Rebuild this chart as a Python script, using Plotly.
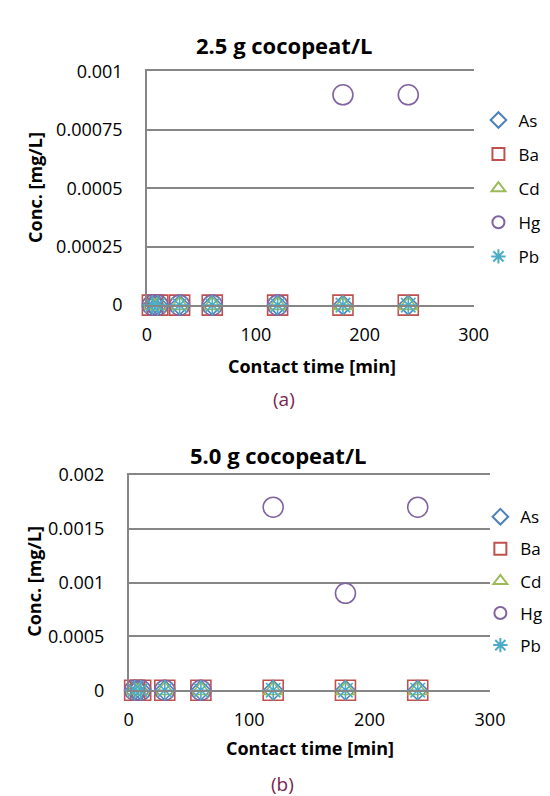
import plotly.graph_objects as go

time_min = [5, 10, 30, 60, 120, 180, 240]
elements = ["As", "Ba", "Cd", "Hg", "Pb"]
conc_a = {
    "As": [0, 0, 0, 0, 0, 0, 0],
    "Ba": [0, 0, 0, 0, 0, 0, 0],
    "Cd": [0, 0, 0, 0, 0, 0, 0],
    "Hg": [0, 0, 0, 0, 0, 0.0009, 0.0009],
    "Pb": [0, 0, 0, 0, 0, 0, 0],
}
conc_b = {
    "As": [0, 0, 0, 0, 0, 0, 0],
    "Ba": [0, 0, 0, 0, 0, 0, 0],
    "Cd": [0, 0, 0, 0, 0, 0, 0],
    "Hg": [0, 0, 0, 0, 0.0017, 0.0009, 0.0017],
    "Pb": [0, 0, 0, 0, 0, 0, 0],
}
yticks_a = [0, 0.00025, 0.0005, 0.00075, 0.001]
yticklabels_a = ["0", "0.00025", "0.0005", "0.00075", "0.001"]
yticks_b = [0, 0.0005, 0.001, 0.0015, 0.002]
yticklabels_b = ["0", "0.0005", "0.001", "0.0015", "0.002"]
xticks = [0, 100, 200, 300]

colors = {"As": "#4F81BD", "Ba": "#C0504D", "Cd": "#9BBB59", "Hg": "#8064A2", "Pb": "#4BACC6"}
symbols = {"As": "diamond-open", "Ba": "square-open", "Cd": "triangle-up-open",
           "Hg": "circle-open", "Pb": "asterisk-open"}
sizes = {"As": 15, "Ba": 20, "Cd": 17, "Hg": 20, "Pb": 17}

FONT = "Open Sans"
W, H = 550, 796
GRID = "#868686"

fig = go.Figure()
for panel, data, xa, ya, lg in [("a", conc_a, "x", "y", "legend"), ("b", conc_b, "x2", "y2", "legend2")]:
    for el in elements:
        fig.add_trace(go.Scatter(
            x=time_min, y=data[el], mode="markers", name=el,
            xaxis=xa, yaxis=ya, legend=lg, legendgroup=panel + el,
            cliponaxis=False,
            marker=dict(symbol=symbols[el], size=sizes[el],
                        line=dict(color=colors[el], width=1.6), color=colors[el]),
        ))

def px_x(p):
    return p / W

def px_y(p):
    return 1 - p / H

tickfont = dict(family=FONT, size=18, color="#000")
xcommon = dict(range=[0, 300], tickvals=xticks, showgrid=False, zeroline=False, ticks="",
               showline=True, mirror=True, linecolor=GRID, linewidth=1.5,
               tickfont=tickfont, ticklabelstandoff=12)
ycommon = dict(showgrid=True, gridcolor=GRID, gridwidth=1.5, zeroline=False, ticks="",
               showline=True, linecolor=GRID, linewidth=1.5,
               tickfont=tickfont, ticklabelstandoff=19)
legfont = dict(family=FONT, size=17, color="#000")
fig.update_layout(
    width=W, height=H, margin=dict(l=0, r=0, t=0, b=0),
    paper_bgcolor="white", plot_bgcolor="white",
    showlegend=True,
    xaxis=dict(domain=[px_x(139), px_x(478)], anchor="y", **xcommon),
    yaxis=dict(domain=[px_y(293), px_y(52)], range=[0, 0.001], tickvals=yticks_a, ticktext=yticklabels_a,
               anchor="x", **ycommon),
    xaxis2=dict(domain=[px_x(120), px_x(495)], anchor="y2", **xcommon),
    yaxis2=dict(domain=[px_y(690), px_y(468)], range=[0, 0.002], tickvals=yticks_b, ticktext=yticklabels_b,
                anchor="x2", **ycommon),
    legend=dict(x=px_x(483), y=px_y(84), xanchor="left", yanchor="top", font=legfont,
                itemsizing="constant", tracegroupgap=9, bgcolor="rgba(0,0,0,0)"),
    legend2=dict(x=px_x(485), y=px_y(493), xanchor="left", yanchor="top", font=legfont,
                 itemsizing="constant", tracegroupgap=7, bgcolor="rgba(0,0,0,0)"),
)

anns = [
    (281, 25, "<b>2.5 g cocopeat/L</b>", 22, "#000", 0),
    (310, 356, "<b>Contact time [min]</b>", 18, "#000", 0),
    (23, 172, "<b>Conc. [mg/L]</b>", 18, "#000", -90),
    (281, 390, "(a)", 19, "#7A1F4F", 0),
    (275, 447, "<b>5.0 g cocopeat/L</b>", 22, "#000", 0),
    (308, 750, "<b>Contact time [min]</b>", 18, "#000", 0),
    (21, 578, "<b>Conc. [mg/L]</b>", 18, "#000", -90),
    (280, 787, "(b)", 19, "#7A1F4F", 0),
]
for x, y, t, s, c, ang in anns:
    fig.add_annotation(x=px_x(x), y=px_y(y), xref="paper", yref="paper", text=t, showarrow=False,
                       font=dict(family=FONT, size=s, color=c), textangle=ang,
                       xanchor="center", yanchor="middle")

fig.write_html("out.html")
